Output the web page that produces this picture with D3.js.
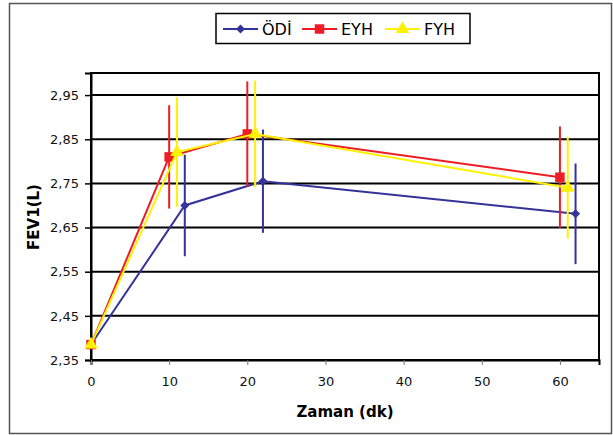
<!DOCTYPE html>
<html>
<head>
<meta charset="utf-8">
<script src="https://cdn.jsdelivr.net/npm/d3@7"></script>
<style>
  body { margin: 0; background: #fff; }
  text { font-family: "DejaVu Sans", Arial, sans-serif; }
</style>
</head>
<body>
<div id="chart"></div>
<script>
// series data (x in minutes, FEV1 in L, error = half bar length)
const seriesNames = ['ÖDİ', 'EYH', 'FYH'];
const odiX = [0, 12, 22, 62];
const odiY = [2.385, 2.700, 2.755, 2.681];
const odiErr = [0, 0.115, 0.117, 0.114];
const eyhX = [0, 10, 20, 60];
const eyhY = [2.385, 2.810, 2.862, 2.764];
const eyhErr = [0, 0.117, 0.119, 0.115];
const fyhX = [0, 11, 21, 61];
const fyhY = [2.385, 2.821, 2.862, 2.740];
const fyhErr = [0, 0.124, 0.121, 0.115];
const yTicks = [2.35, 2.45, 2.55, 2.65, 2.75, 2.85, 2.95];
const xTicks = [0, 10, 20, 30, 40, 50, 60];

const width = 613, height = 435;
const plot = { left: 91, top: 73, right: 599, bottom: 360 };

const svg = d3.select('#chart').append('svg')
    .attr('width', width)
    .attr('height', height);

// outer frame
svg.append('rect')
    .attr('x', 9.5).attr('y', 3.5)
    .attr('width', 602).attr('height', 430)
    .attr('fill', 'none')
    .attr('stroke', '#555')
    .attr('stroke-width', 1.5);

const x = d3.scaleLinear().domain([0, 65]).range([plot.left, plot.right]);
const y = d3.scaleLinear().domain([2.35, 3.0]).range([plot.bottom, plot.top]);

// grid lines
svg.append('g')
    .selectAll('line')
    .data(yTicks.slice(1))
    .enter()
    .append('line')
    .attr('x1', plot.left).attr('x2', plot.right)
    .attr('y1', d => y(d)).attr('y2', d => y(d))
    .attr('stroke', '#000')
    .attr('stroke-width', 2);

// plot border
svg.append('rect')
    .attr('x', plot.left).attr('y', plot.top)
    .attr('width', plot.right - plot.left).attr('height', plot.bottom - plot.top)
    .attr('fill', 'none')
    .attr('stroke', '#000')
    .attr('stroke-width', 2);

// axes
const fmt = d => d3.format('.2f')(d).replace('.', ',');
const yAxis = svg.append('g')
    .attr('transform', `translate(${plot.left},0)`)
    .call(d3.axisLeft(y).tickValues(yTicks).tickFormat(fmt).tickSize(6).tickPadding(6));
const xAxis = svg.append('g')
    .attr('transform', `translate(0,${plot.bottom})`)
    .call(d3.axisBottom(x).tickValues(xTicks).tickSize(5).tickPadding(12));
[xAxis, yAxis].forEach(a => {
    a.select('.domain').attr('stroke', '#000').attr('stroke-width', 2);
    a.selectAll('.tick line').attr('stroke', '#000').attr('stroke-width', 1.5);
    a.selectAll('.tick text')
        .attr('fill', '#111')
        .style('font-size', '13px')
        .style('font-family', '"DejaVu Sans", Arial, sans-serif');
});
xAxis.selectAll('.tick line').attr('stroke', '#777').attr('stroke-width', 1);

// axis titles
svg.append('text')
    .attr('x', 345).attr('y', 417)
    .attr('text-anchor', 'middle')
    .style('font-size', '15px').style('font-weight', 'bold')
    .text('Zaman (dk)');
svg.append('text')
    .attr('transform', 'translate(39,217) rotate(-90)')
    .attr('text-anchor', 'middle')
    .style('font-size', '15px').style('font-weight', 'bold')
    .text('FEV1(L)');

// series
const series = [
    { name: seriesNames[0], xs: odiX, ys: odiY, err: odiErr, color: '#333399', marker: 'diamond' },
    { name: seriesNames[1], xs: eyhX, ys: eyhY, err: eyhErr, color: '#ee1c24', marker: 'square' },
    { name: seriesNames[2], xs: fyhX, ys: fyhY, err: fyhErr, color: '#fff200', marker: 'triangle' }
];

const symbolFor = m => {
    if (m === 'diamond') return 'M0,-4.5L4.5,0L0,4.5L-4.5,0Z';
    if (m === 'square') return d3.symbol().type(d3.symbolSquare).size(90)();
    return d3.symbol().type(d3.symbolTriangle).size(80)();
};

const line = d3.line().x(d => x(d[0])).y(d => y(d[1]));

series.forEach(s => {
    const pts = s.xs.map((v, i) => [v, s.ys[i], s.err[i]]);
    const g = svg.append('g');
    g.selectAll('line.err')
        .data(pts.filter(p => p[2] > 0))
        .enter()
        .append('line')
        .attr('class', 'err')
        .attr('x1', d => x(d[0])).attr('x2', d => x(d[0]))
        .attr('y1', d => y(d[1] - d[2])).attr('y2', d => y(d[1] + d[2]))
        .attr('stroke', s.color)
        .attr('stroke-width', 2);
    g.append('path')
        .attr('d', line(pts))
        .attr('fill', 'none')
        .attr('stroke', s.color)
        .attr('stroke-width', 2);
    g.selectAll('path.mk')
        .data(pts)
        .enter()
        .append('path')
        .attr('class', 'mk')
        .attr('transform', d => `translate(${x(d[0])},${y(d[1])})`)
        .attr('d', symbolFor(s.marker))
        .attr('fill', s.color);
});

// legend
const legend = svg.append('g');
legend.append('rect')
    .attr('x', 216).attr('y', 13.5)
    .attr('width', 254).attr('height', 30)
    .attr('fill', '#fff')
    .attr('stroke', '#000')
    .attr('stroke-width', 1.5);
const legendX = [223, 302, 385];
series.forEach((s, i) => {
    const lg = legend.append('g').attr('transform', `translate(${legendX[i]},29)`);
    lg.append('line')
        .attr('x1', 0).attr('x2', 35)
        .attr('stroke', s.color).attr('stroke-width', 2);
    lg.append('path')
        .attr('transform', 'translate(17.5,0)')
        .attr('d', symbolFor(s.marker))
        .attr('fill', s.color);
    lg.append('text')
        .attr('x', 39).attr('y', 6)
        .style('font-size', '16px')
        .text(s.name);
});
</script>
</body>
</html>
